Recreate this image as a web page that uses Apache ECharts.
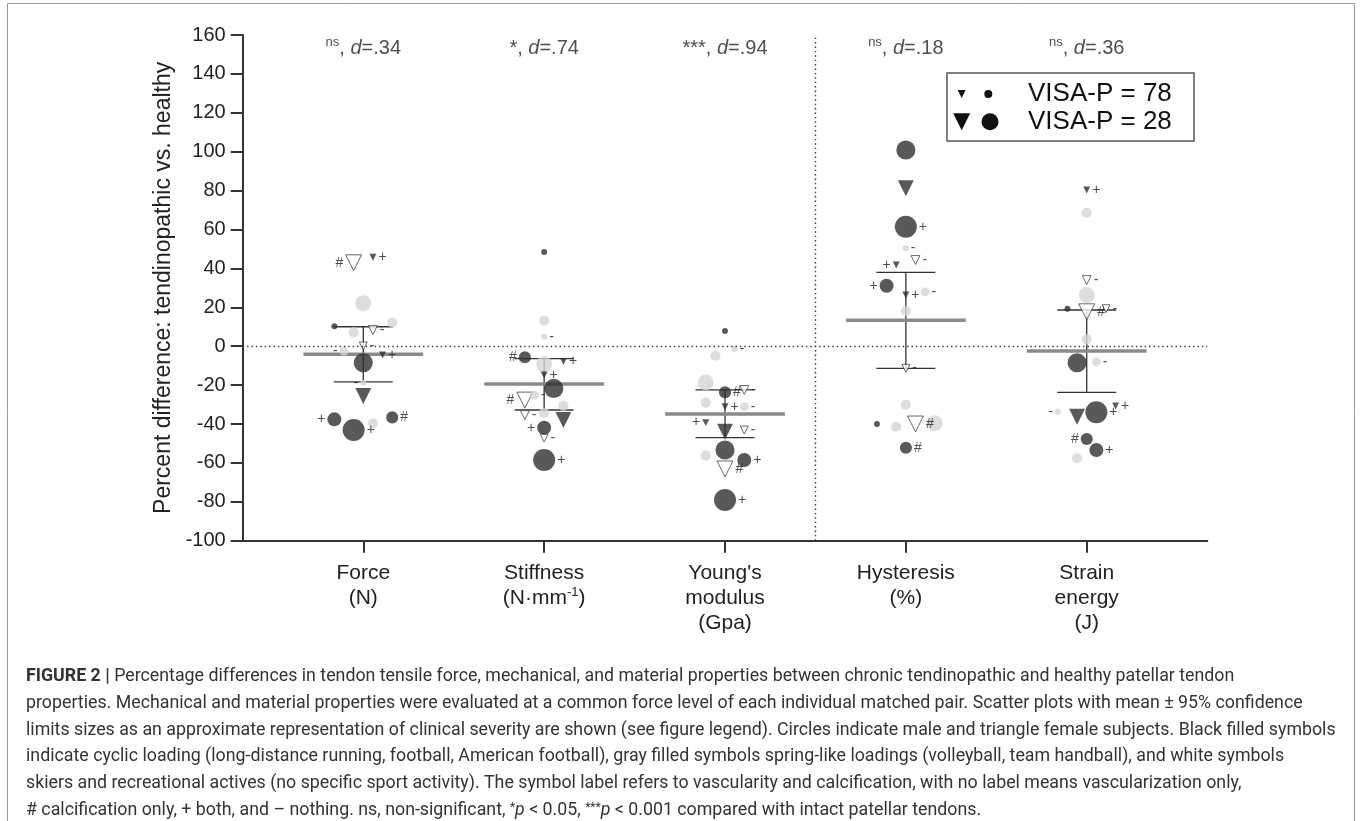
<!DOCTYPE html>
<html>
<head>
<meta charset="utf-8">
<script src="https://cdn.jsdelivr.net/npm/echarts@6/dist/echarts.min.js"></script>
<style>
html,body{margin:0;padding:0;background:#fff;}
#main{width:1360px;height:821px;}
</style>
</head>
<body>
<div id="main"></div>
<script>
// ---------------- DATA ----------------
const categories = ['Force', 'Stiffness', "Young's modulus", 'Hysteresis', 'Strain energy'];
const xTickLabels = ['Force\n(N)', 'Stiffness\n(N·mm^-1)', "Young's\nmodulus\n(Gpa)", 'Hysteresis\n(%)', 'Strain\nenergy\n(J)'];
const yTicks = [-100, -80, -60, -40, -20, 0, 20, 40, 60, 80, 100, 120, 140, 160];

// 17 subjects: sex (F = triangle, M = circle), loading type (colour), VISA-P (symbol size), lesion label
const subjectSex = ['F','F','M','M','M','M','F','F','M','F','M','M','F','M','M','M','M'];
const subjectLoading = ['recreational','cyclic','spring','spring','cyclic','spring','recreational','recreational','spring','cyclic','cyclic','spring','cyclic','cyclic','cyclic','spring','cyclic'];
const subjectVisaP = [47, 75, 47, 65, 78, 65, 69, 72, 69, 75, 37, 78, 47, 53, 28, 65, 59];
const subjectLesion = ['#','+','','','','','-','-','-','+','','-','','+','+','','#'];

// percent differences per subject (S1..S17)
const forceDiff      = [42.9, 45.7, 22.1, 12.1, 10.2, 7.1, 8.3, 0.1, -2.5, -4.5, -8.5, -18.8, -25.6, -37.6, -43.1, -39.6, -36.6];
const stiffnessDiff  = [-27.7, -7.8, -9.2, 13.1, 48.4, -30.7, -35.4, -47.2, -25.1, -14.8, -21.7, 4.9, -37.9, -41.9, -58.5, -34.3, -5.7];
const youngDiff      = [-63.1, -31.1, -18.6, -4.9, 7.8, -29.0, -22.5, -43.1, -31.1, -39.3, -53.4, -1.4, -44.0, -58.5, -79.1, -56.3, -23.7];
const hysteresisDiff = [-40.0, 41.7, -39.6, 18.1, -40.0, -30.2, 44.3, -11.4, 27.9, 26.3, 100.9, 50.3, 81.2, 31.1, 61.4, -41.4, -52.2];
const strainDiff     = [17.7, 80.3, 26.3, 68.6, 19.3, 3.5, 34.0, 19.3, -8.0, -30.7, -8.5, -33.7, -36.3, -53.4, -34.0, -57.6, -47.7];

// mean and 95% confidence limits
const means  = [-4.2, -19.4, -34.9, 13.3, -2.5];
const ciLow  = [-18.3, -32.8, -47.0, -11.4, -23.7];
const ciHigh = [10.0, -6.4, -22.5, 38.0, 18.6];
const significance = ['ns', '*', '***', 'ns', 'ns'];
const effectSize = ['.34', '.74', '.94', '.18', '.36'];

// ---------------- LAYOUT (jitter columns & label sides) ----------------
const jitter = [
  [-1, 1, 0, 3, -3, -1, 1, 0, -2, 2, 0, 0, 0, -3, -1, 1, 3],
  [-2, 2, 0, 0, 0, 2, -2, 0, -1, 0, 1, 0, 2, 0, 0, 0, -2],
  [0, 0, -2, -1, 0, -2, 2, 2, 2, -2, 0, 1, 0, 2, 0, -2, 0],
  [1, -1, 3, 0, -3, 0, 1, 0, 2, 0, 0, 0, 0, -2, 0, -1, 0],
  [0, 0, 0, 0, -2, 0, 0, 2, 1, 3, -1, -3, -1, 1, 1, -1, 0]
];
const labelSide = [
  'LRRRRRRRLRRLRLRRR',
  'LRRRRRRRRRRRRLRRL',
  'RRRRRRRRRLRRRRRRR',
  'RLRRRRRRRRRRRLRRR',
  'RRRRRRRRRRRLRRRRL'
];
const JITTER_STEP = 0.0533;
const MEAN_HALF = 0.331;
const CAP_HALF = 0.163;
const ANNOT_Y = 153.3;

const FONT = "'Liberation Sans', Arial, Helvetica, sans-serif";
const loadingColor = { cyclic: '#2f2f2f', spring: '#d4d4d4', recreational: '#ffffff' };
function visaToSize(v) { return 6 + (78 - v) * 0.32; }

const allValues = [forceDiff, stiffnessDiff, youngDiff, hysteresisDiff, strainDiff];

const pointData = [];
allValues.forEach((vals, ci) => {
  vals.forEach((v, si) => {
    const tri = subjectSex[si] === 'F';
    const load = subjectLoading[si];
    const lesion = subjectLesion[si];
    pointData.push({
      value: [ci + 1 + jitter[ci][si] * JITTER_STEP, v],
      symbol: tri ? 'triangle' : 'circle',
      symbolRotate: tri ? 180 : 0,
      symbolSize: visaToSize(subjectVisaP[si]),
      itemStyle: {
        color: loadingColor[load],
        borderColor: load === 'recreational' ? '#444' : loadingColor[load],
        borderWidth: load === 'recreational' ? 1 : 0
      },
      label: {
        show: lesion !== '',
        formatter: lesion,
        position: labelSide[ci][si] === 'L' ? 'left' : 'right',
        distance: 2,
        fontSize: 14,
        fontFamily: FONT,
        color: '#222'
      }
    });
  });
});

const statsData = categories.map((c, i) => [i + 1, means[i], ciLow[i], ciHigh[i]]);
const annotData = categories.map((c, i) => ({ value: [i + 1, ANNOT_Y], sig: significance[i], d: effectSize[i] }));

function fmtTick(s) {
  return s.split('\n').map(line => {
    const parts = line.split('^');
    if (parts.length === 1) return '{a|' + line + '}';
    const rest = parts[1];
    const sup = rest.match(/^-?\d+/)[0];
    return '{a|' + parts[0] + '}{sup|' + sup + '}{a|' + rest.slice(sup.length) + '}';
  }).join('\n');
}

const chart = echarts.init(document.getElementById('main'), null, { renderer: 'canvas' });

// caption lines
const captionLines = [
  '{b|FIGURE 2 | }{t|Percentage differences in tendon tensile force, mechanical, and material properties between chronic tendinopathic and healthy patellar tendon}',
  '{t|properties. Mechanical and material properties were evaluated at a common force level of each individual matched pair. Scatter plots with mean ± 95% confidence}',
  '{t|limits sizes as an approximate representation of clinical severity are shown (see figure legend). Circles indicate male and triangle female subjects. Black filled symbols}',
  '{t|indicate cyclic loading (long-distance running, football, American football), gray filled symbols spring-like loadings (volleyball, team handball), and white symbols}',
  '{t|skiers and recreational actives (no specific sport activity). The symbol label refers to vascularity and calcification, with no label means vascularization only,}',
  '{t|# calcification only, + both, and – nothing. ns, non-significant, }{s|*}{i|p}{t| < 0.05, }{s|***}{i|p}{t| < 0.001 compared with intact patellar tendons.}'
];
const CAP_FONT = "Roboto, 'Liberation Sans', sans-serif";
const CAP_SIZE = 17.8;
const capRich = {
  b: { fontFamily: CAP_FONT, fontSize: CAP_SIZE, fontWeight: 'bold', color: '#222' },
  t: { fontFamily: CAP_FONT, fontSize: CAP_SIZE, color: '#333' },
  i: { fontFamily: CAP_FONT, fontSize: CAP_SIZE, fontStyle: 'italic', color: '#333' },
  s: { fontFamily: CAP_FONT, fontSize: 12, color: '#333', verticalAlign: 'top', lineHeight: 14 }
};

const graphics = [
  { type: 'rect', shape: { x: 7.5, y: 3.5, width: 1347, height: 840 }, style: { fill: 'none', stroke: '#9a9a9a', lineWidth: 1 }, silent: true },
  // legend box
  { type: 'rect', shape: { x: 947, y: 73, width: 247, height: 68 }, style: { fill: '#fff', stroke: '#555', lineWidth: 1.5 }, z: 10 },
  { type: 'polygon', shape: { points: [[957.7, 90], [965.7, 90], [961.7, 98]] }, style: { fill: '#111' }, z: 11 },
  { type: 'circle', shape: { cx: 988.3, cy: 94, r: 4 }, style: { fill: '#111' }, z: 11 },
  { type: 'polygon', shape: { points: [[953.2, 113.2], [970.2, 113.2], [961.7, 130.2]] }, style: { fill: '#111' }, z: 11 },
  { type: 'circle', shape: { cx: 990, cy: 121.7, r: 8.5 }, style: { fill: '#111' }, z: 11 },
  { type: 'text', x: 1028, y: 94, style: { text: 'VISA-P = 78', font: "26px " + FONT, fill: '#111', verticalAlign: 'middle' }, z: 11 },
  { type: 'text', x: 1028, y: 122, style: { text: 'VISA-P = 28', font: "26px " + FONT, fill: '#111', verticalAlign: 'middle' }, z: 11 }
];
captionLines.forEach((ln, k) => {
  graphics.push({ type: 'text', x: 26, y: 676.5 + k * 26.8, style: { text: ln, rich: capRich, verticalAlign: 'middle', fill: '#333' } });
});

const option = {
  backgroundColor: '#fff',
  animation: false,
  grid: { left: 242.7, right: 152.7, top: 35, bottom: 280.3, containLabel: false, outerBoundsMode: 'none' },
  xAxis: {
    type: 'value', min: 1 / 3, max: 17 / 3,
    axisLine: { show: true, onZero: false, lineStyle: { color: '#333', width: 2 } },
    axisTick: { show: true, customValues: [1, 2, 3, 4, 5], length: 12, lineStyle: { color: '#333', width: 2 } },
    axisLabel: {
      show: true, customValues: [1, 2, 3, 4, 5], margin: 20,
      formatter: v => fmtTick(xTickLabels[Math.round(v) - 1]),
      rich: {
        a: { fontSize: 21, lineHeight: 25, color: '#222', fontFamily: FONT },
        sup: { fontSize: 13, lineHeight: 15, color: '#222', fontFamily: FONT, verticalAlign: 'top' }
      }
    },
    splitLine: { show: false }
  },
  yAxis: {
    type: 'value', min: -100, max: 160, interval: 20,
    name: 'Percent difference: tendinopathic vs. healthy',
    nameLocation: 'middle', nameGap: 67,
    nameTextStyle: { fontSize: 23, color: '#222', fontFamily: FONT },
    axisLine: { show: true, onZero: false, lineStyle: { color: '#333', width: 2 } },
    axisTick: { show: true, length: 12, lineStyle: { color: '#333', width: 2 } },
    axisLabel: { fontSize: 20, color: '#222', margin: 17, fontFamily: FONT },
    splitLine: { show: false }
  },
  graphic: graphics,
  series: [
    {
      type: 'custom',
      z: 2,
      silent: true,
      data: statsData,
      renderItem: function (params, api) {
        const x = api.value(0), m = api.value(1), lo = api.value(2), hi = api.value(3);
        const pM = api.coord([x, m]), pL = api.coord([x, lo]), pH = api.coord([x, hi]);
        const mh = api.size([MEAN_HALF, 0])[0];
        const ch = api.size([CAP_HALF, 0])[0];
        const thin = { stroke: '#333', lineWidth: 1.3 };
        return {
          type: 'group',
          children: [
            { type: 'line', shape: { x1: pH[0], y1: pH[1], x2: pL[0], y2: pL[1] }, style: thin },
            { type: 'line', shape: { x1: pH[0] - ch, y1: pH[1], x2: pH[0] + ch, y2: pH[1] }, style: thin },
            { type: 'line', shape: { x1: pL[0] - ch, y1: pL[1], x2: pL[0] + ch, y2: pL[1] }, style: thin },
            { type: 'line', shape: { x1: pM[0] - mh, y1: pM[1], x2: pM[0] + mh, y2: pM[1] }, style: { stroke: '#8a8a8a', lineWidth: 3.5 } }
          ]
        };
      },
      markLine: {
        silent: true,
        symbol: ['none', 'none'],
        label: { show: false },
        lineStyle: { color: '#333', width: 1.4, type: [1.4, 3] },
        data: [{ xAxis: 3.5 }, { yAxis: 0 }]
      }
    },
    {
      type: 'scatter',
      z: 3,
      silent: true,
      data: pointData
    },
    {
      type: 'scatter',
      z: 4,
      silent: true,
      symbolSize: 1,
      itemStyle: { color: 'rgba(0,0,0,0)' },
      data: annotData,
      label: {
        show: true,
        position: 'inside',
        formatter: p => {
          const s = p.data.sig === 'ns' ? '{sup|ns}' : '{n|' + p.data.sig + '}';
          return s + '{n|, }{it|d}{n|=' + p.data.d + '}';
        },
        rich: {
          n: { fontSize: 20, lineHeight: 24, color: '#222', fontFamily: FONT },
          it: { fontSize: 20, lineHeight: 24, color: '#222', fontStyle: 'italic', fontFamily: FONT },
          sup: { fontSize: 13, lineHeight: 14, color: '#222', fontFamily: FONT, verticalAlign: 'top' }
        }
      }
    }
  ]
};
chart.setOption(option);
</script>
</body>
</html>
